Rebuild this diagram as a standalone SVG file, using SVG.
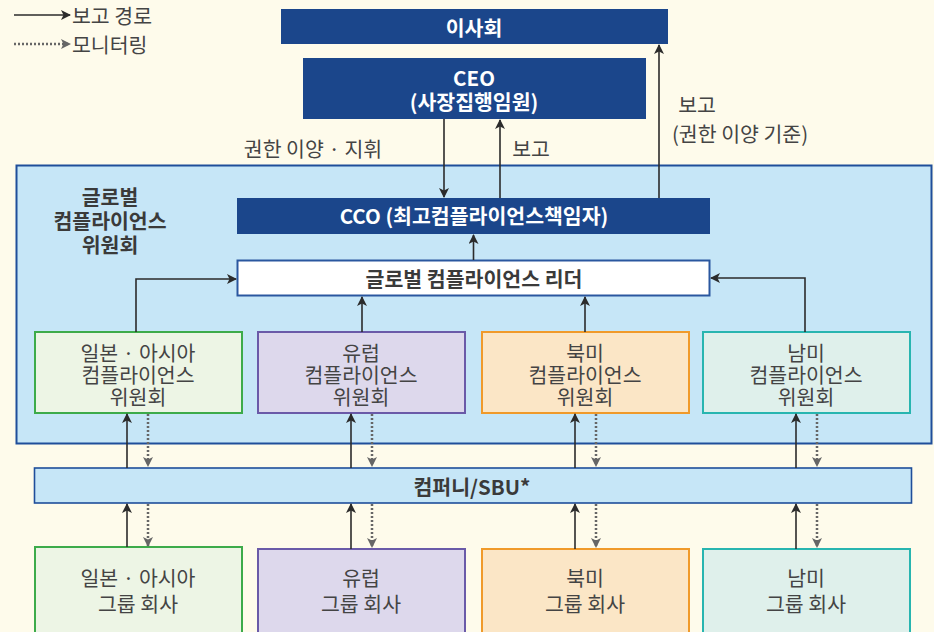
<svg xmlns="http://www.w3.org/2000/svg" width="934" height="632" viewBox="0 0 934 632">
<defs>
<marker id="ah" markerWidth="10" markerHeight="10" viewBox="0 0 10 10" refX="9" refY="5" orient="auto" markerUnits="userSpaceOnUse">
<path d="M0,0 L10,5 L0,10 L2.5,5 Z" fill="#2b2b2b"/>
</marker>
<marker id="ahd" markerWidth="10" markerHeight="10" viewBox="0 0 10 10" refX="9" refY="5" orient="auto" markerUnits="userSpaceOnUse">
<path d="M0,0 L10,5 L0,10 L2.5,5 Z" fill="#666"/>
</marker>
<style>
text{font-family:"Noto Sans CJK KR","Noto Sans",sans-serif;font-size:20.5px;text-anchor:middle;dominant-baseline:central;fill:#444}
.w{fill:#fff;font-weight:bold}
.b{font-weight:bold;fill:#3a3a3a}
.navy{fill:#1b468b}
.solid{stroke:#2b2b2b;stroke-width:1.6;fill:none;marker-end:url(#ah)}
.dot{stroke:#666;stroke-width:2.5;stroke-dasharray:2 2;fill:none;marker-end:url(#ahd)}
.lbl{text-anchor:start}
.g{fill:#edf5e5;stroke:#3dab4a;stroke-width:2}
.p{fill:#ddd8ec;stroke:#6a5aa8;stroke-width:2}
.o{fill:#fbe6c6;stroke:#f09a2a;stroke-width:2}
.t{fill:#dff0eb;stroke:#28b5b0;stroke-width:2}
</style>
</defs>
<rect width="934" height="632" fill="#fefbeb"/>
<g id="legend">
<line x1="14" y1="15" x2="70" y2="15" class="solid"/>
<text x="72" y="15" class="lbl">보고 경로</text>
<line x1="14" y1="44" x2="70" y2="44" class="dot"/>
<text x="72" y="44" class="lbl">모니터링</text>
</g>
<g id="global-committee">
<rect x="16.5" y="165.5" width="915" height="278" fill="#c6e6f7" stroke="#1f4e9a" stroke-width="2"/>
<text x="110" y="196" class="b">글로벌</text>
<text x="110" y="220" class="b">컴플라이언스</text>
<text x="110" y="244" class="b">위원회</text>
</g>
<g id="board">
<rect x="281" y="9" width="387" height="35" class="navy"/>
<text x="474" y="27" class="w">이사회</text>
</g>
<g id="ceo">
<rect x="303" y="58" width="343" height="61" class="navy"/>
<text x="474" y="77" class="w">CEO</text>
<text x="474" y="101" class="w">(사장집행임원)</text>
</g>
<g id="cco">
<rect x="237" y="198" width="473" height="36" class="navy"/>
<text x="474" y="215" class="w">CCO (최고컴플라이언스책임자)</text>
</g>
<g id="leader">
<rect x="237.5" y="260.5" width="472" height="35" fill="#fff" stroke="#2a579f" stroke-width="2"/>
<text x="474" y="278" class="b">글로벌 컴플라이언스 리더</text>
</g>
<g id="c-asia">
<rect x="35" y="332" width="207" height="81" class="g"/>
<text x="138" y="352">일본 · 아시아</text>
<text x="138" y="374">컴플라이언스</text>
<text x="138" y="396">위원회</text>
</g>
<g id="c-europe">
<rect x="258" y="332" width="207" height="81" class="p"/>
<text x="361" y="352">유럽</text>
<text x="361" y="374">컴플라이언스</text>
<text x="361" y="396">위원회</text>
</g>
<g id="c-na">
<rect x="482" y="332" width="207" height="81" class="o"/>
<text x="585" y="352">북미</text>
<text x="585" y="374">컴플라이언스</text>
<text x="585" y="396">위원회</text>
</g>
<g id="c-sa">
<rect x="703" y="332" width="207" height="81" class="t"/>
<text x="806" y="352">남미</text>
<text x="806" y="374">컴플라이언스</text>
<text x="806" y="396">위원회</text>
</g>
<g id="sbu">
<rect x="34.5" y="468" width="877" height="35" fill="#c6e6f7" stroke="#1f4e9a" stroke-width="1.6"/>
<text x="472" y="486" class="b">컴퍼니/SBU*</text>
</g>
<g id="g-asia">
<rect x="35" y="547" width="207" height="86" class="g"/>
<text x="138" y="577">일본 · 아시아</text>
<text x="138" y="603">그룹 회사</text>
</g>
<g id="g-europe">
<rect x="258" y="549" width="207" height="84" class="p"/>
<text x="361" y="577">유럽</text>
<text x="361" y="603">그룹 회사</text>
</g>
<g id="g-na">
<rect x="482" y="549" width="207" height="84" class="o"/>
<text x="585" y="577">북미</text>
<text x="585" y="603">그룹 회사</text>
</g>
<g id="g-sa">
<rect x="703" y="549" width="207" height="84" class="t"/>
<text x="806" y="577">남미</text>
<text x="806" y="603">그룹 회사</text>
</g>
<g id="connectors">
<line x1="444" y1="119" x2="444" y2="197" class="solid"/>
<line x1="500" y1="198" x2="500" y2="120" class="solid"/>
<line x1="659" y1="198" x2="659" y2="45" class="solid"/>
<line x1="473.5" y1="260" x2="473.5" y2="235" class="solid"/>
<polyline points="136,332 136,279 236,279" class="solid"/>
<polyline points="805,332 805,278 711,278" class="solid"/>
<line x1="362" y1="332" x2="362" y2="297" class="solid"/>
<line x1="585" y1="332" x2="585" y2="297" class="solid"/>
<line x1="127" y1="468" x2="127" y2="414" class="solid"/>
<line x1="351" y1="468" x2="351" y2="414" class="solid"/>
<line x1="575" y1="468" x2="575" y2="414" class="solid"/>
<line x1="796" y1="468" x2="796" y2="414" class="solid"/>
<line x1="148" y1="414" x2="148" y2="466" class="dot"/>
<line x1="372" y1="414" x2="372" y2="466" class="dot"/>
<line x1="596" y1="414" x2="596" y2="466" class="dot"/>
<line x1="817" y1="414" x2="817" y2="466" class="dot"/>
<line x1="127" y1="547" x2="127" y2="504" class="solid"/>
<line x1="351" y1="549" x2="351" y2="504" class="solid"/>
<line x1="575" y1="549" x2="575" y2="504" class="solid"/>
<line x1="796" y1="549" x2="796" y2="504" class="solid"/>
<line x1="148" y1="504" x2="148" y2="546" class="dot"/>
<line x1="372" y1="504" x2="372" y2="547" class="dot"/>
<line x1="596" y1="504" x2="596" y2="547" class="dot"/>
<line x1="817" y1="504" x2="817" y2="547" class="dot"/>
<text x="313" y="148">권한 이양 · 지휘</text>
<text x="531" y="148">보고</text>
<text x="697" y="104">보고</text>
<text x="740" y="133">(권한 이양 기준)</text>
</g>
</svg>
